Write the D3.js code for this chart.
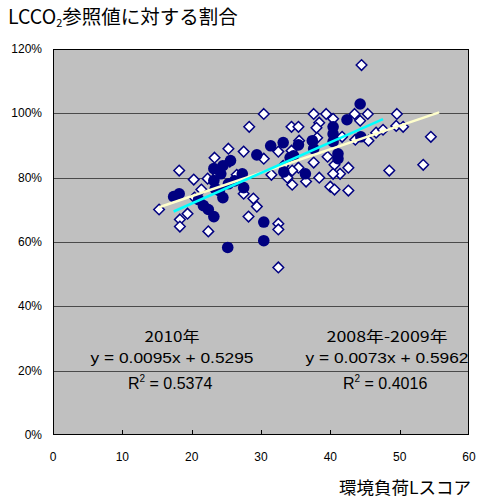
<!DOCTYPE html>
<html><head><meta charset="utf-8">
<script src="https://cdn.jsdelivr.net/npm/d3@7"></script>
<style>
body{margin:0;background:#fff;}
svg text{font-family:"Liberation Sans","Noto Sans CJK JP",sans-serif;}
.jp{font-family:"Noto Sans CJK JP","Liberation Sans",sans-serif;}
</style></head><body>
<svg id="c" width="478" height="499"></svg>
<script>
// 2008-2009 series (diamonds): [score, ratio]
const d0809X = [15.3,18.2,20.3,23.3,25.3,25.5,27.5,28.3,22.3,26.5,44.5,30.4,37.6,39.4,38.4,38.0,34.4,35.4,43.5,44.3,45.4,32.5,30.4,34.4,35.5,38.1,39.6,40.6,41.4,42.6,38.4,35.4,34.5,33.2,31.5,49.6,45.5,46.6,47.6,49.5,50.5,54.5,53.4,48.5,21.4,20.4,19.4,18.3,18.3,22.4,27.5,28.2,28.9,29.4,32.5,32.5,32.5,34.5,36.5,40.0,40.6,42.6,40.4,37.6,40.4,43.6,41.7,23.8,33.8];
const d0809Y = [0.701,0.822,0.794,0.862,0.890,0.850,0.881,0.958,0.797,0.809,1.150,0.998,0.998,0.998,0.971,0.955,0.958,0.958,0.998,0.977,0.998,0.881,0.859,0.884,0.915,0.924,0.865,0.840,0.812,0.831,0.800,0.831,0.822,0.837,0.809,0.998,0.915,0.940,0.949,0.961,0.958,0.927,0.840,0.822,0.763,0.738,0.688,0.670,0.648,0.633,0.750,0.679,0.735,0.710,0.657,0.639,0.521,0.778,0.788,0.772,0.763,0.760,0.812,0.847,0.983,0.918,0.927,0.810,0.800];
// 2010 series (circles)
const d2010X = [17.4,18.2,21.0,21.7,22.4,23.2,24.5,23.4,23.2,23.2,24.5,24.2,25.3,27.3,27.5,25.2,29.4,30.4,30.4,31.4,33.2,35.4,37.4,37.6,34.7,34.2,36.4,33.3,41.1,41.1,40.4,40.4,42.4,44.3,44.4,24.0,25.6,40.4,26.2];
const d2010Y = [0.741,0.750,0.732,0.713,0.701,0.679,0.738,0.766,0.791,0.828,0.837,0.812,0.781,0.812,0.769,0.583,0.871,0.662,0.604,0.899,0.909,0.902,0.915,0.890,0.868,0.862,0.812,0.818,0.874,0.859,0.958,0.936,0.980,1.029,0.927,0.760,0.853,0.912,0.790];
// linear trend lines: slope, intercept, x extent
const trend2010 = {slope:0.0095, intercept:0.5295, x:[17.4,47.6]};
const trend0809 = {slope:0.0073, intercept:0.5962, x:[15.3,55.7]};
const xTicks = [0,10,20,30,40,50,60];
const yTicks = [0,0.2,0.4,0.6,0.8,1.0,1.2];

const svg = d3.select("#c");
const L=53, R=469, T=49, B=435;
const x = d3.scaleLinear().domain([0,60]).range([L,R]);
const y = d3.scaleLinear().domain([0,1.2]).range([B,T]);

svg.append("rect").attr("x",L).attr("y",T).attr("width",R-L).attr("height",B-T).attr("fill","#c0c0c0");
svg.append("g").selectAll("line").data(yTicks.slice(1,-1)).join("line")
  .attr("x1",L).attr("x2",R).attr("y1",d=>Math.round(y(d))+0.5).attr("y2",d=>Math.round(y(d))+0.5)
  .attr("stroke","#4a4a4a").attr("stroke-width",1);
svg.append("g").selectAll("line").data(xTicks.slice(1,-1)).join("line")
  .attr("x1",d=>Math.round(x(d))+0.5).attr("x2",d=>Math.round(x(d))+0.5).attr("y1",B).attr("y2",B-5)
  .attr("stroke","#000");
svg.append("rect").attr("x",L+0.5).attr("y",T+0.5).attr("width",R-L-1).attr("height",B-T-1)
  .attr("fill","none").attr("stroke","#000").attr("stroke-width",1);

svg.append("g").selectAll("text").data(yTicks).join("text")
  .attr("x",42).attr("y",d=>y(d)+4).attr("text-anchor","end").attr("font-size",12)
  .text(d=>d3.format(".0%")(d));
svg.append("g").selectAll("text").data(xTicks).join("text")
  .attr("x",d=>x(d)).attr("y",461).attr("text-anchor","middle").attr("font-size",12)
  .text(d=>d);

const h = 5.3;
const diaPath = `M0,${-h}L${h},0L0,${h}L${-h},0Z`;
const pts0809 = d0809X.map((v,i)=>[v,d0809Y[i]]);
const pts2010 = d2010X.map((v,i)=>[v,d2010Y[i]]);
svg.append("g").selectAll("path").data(pts0809).join("path")
  .attr("d",diaPath).attr("transform",d=>`translate(${x(d[0])},${y(d[1])})`)
  .attr("fill","#fff").attr("stroke","#000080").attr("stroke-width",1.5);
svg.append("g").selectAll("circle").data(pts2010).join("circle")
  .attr("cx",d=>x(d[0])).attr("cy",d=>y(d[1])).attr("r",5.8).attr("fill","#000080");

function tl(t,color){
  svg.append("line").attr("x1",x(t.x[0])).attr("y1",y(t.slope*t.x[0]+t.intercept))
    .attr("x2",x(t.x[1])).attr("y2",y(t.slope*t.x[1]+t.intercept))
    .attr("stroke",color).attr("stroke-width",2.5);
}
tl(trend0809,"#ffffcc");
tl(trend2010,"#00ffff");

function ann(cx,year,yw,eq,r2){
  svg.append("text").attr("class","jp").attr("x",cx).attr("y",342).attr("text-anchor","middle")
    .attr("font-size",15).attr("textLength",yw).attr("lengthAdjust","spacingAndGlyphs").text(year);
  svg.append("text").attr("x",cx).attr("y",363).attr("text-anchor","middle")
    .attr("font-size",15.5).attr("textLength",163).attr("lengthAdjust","spacingAndGlyphs").text(eq);
  const t = svg.append("text").attr("x",cx-44).attr("y",389).attr("font-size",16);
  t.append("tspan").text("R");
  t.append("tspan").attr("font-size",10).attr("dy",-7).text("2");
  t.append("tspan").attr("dy",7).text(" = "+r2);
}
ann(172,"2010年",55,"y = 0.0095x + 0.5295","0.5374");
ann(387,"2008年-2009年",121,"y = 0.0073x + 0.5962","0.4016");

const tt = svg.append("text").attr("class","jp").attr("x",8).attr("y",24).attr("font-size",19.5);
tt.append("tspan").text("LCCO");
tt.append("tspan").attr("font-size",11).attr("dy",3).text("2");
tt.append("tspan").attr("dy",-3).text("参照値に対する割合");
svg.append("text").attr("class","jp").attr("x",471).attr("y",494).attr("text-anchor","end").attr("font-size",17.5)
  .text("環境負荷Lスコア");
</script></body></html>
